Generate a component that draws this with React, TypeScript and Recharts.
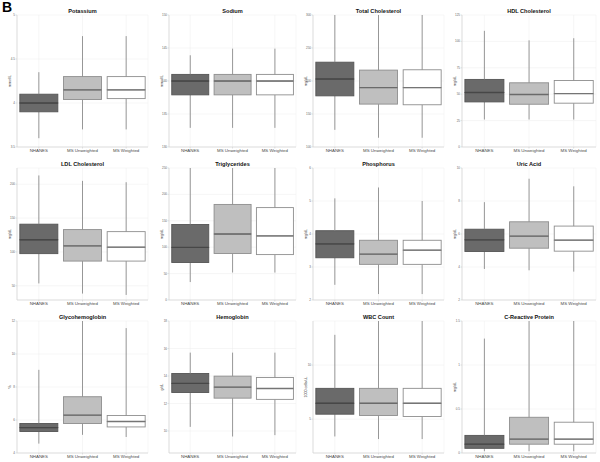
import { ComposedChart, Bar, XAxis, YAxis, CartesianGrid } from "recharts";

// box stats per group: [min, q1, median, q3, max]
const groups = ["NHANES", "MS Unweighted", "MS Weighted"];

const titles = [
  "Potassium", "Sodium", "Total Cholesterol", "HDL Cholesterol",
  "LDL Cholesterol", "Triglycerides", "Phosphorus", "Uric Acid",
  "Glycohemoglobin", "Hemoglobin", "WBC Count", "C-Reactive Protein",
];

const units = [
  "mmol/L", "mmol/L", "mg/dL", "mg/dL",
  "mg/dL", "mg/dL", "mg/dL", "mg/dL",
  "%", "g/dL", "1000 cells/uL", "mg/dL",
];

const domains: [number, number][] = [
  [3.5, 5], [130, 150], [100, 300], [0, 125],
  [29, 224], [0, 250], [2, 6], [2, 10],
  [4, 12], [8.4, 18], [1.87, 14.08], [0, 1.5],
];

const tickSets: number[][] = [
  [3.5, 4, 4.5, 5], [130, 135, 140, 145, 150], [100, 150, 200, 250, 300], [0, 25, 50, 75, 100, 125],
  [50, 100, 150, 200], [0, 50, 100, 150, 200, 250], [2, 3, 4, 5, 6], [2, 4, 6, 8, 10],
  [4, 6, 8, 10, 12], [10, 12, 14, 16, 18], [5, 10], [0, 0.5, 1, 1.5],
];

const potassium = [[3.6, 3.9, 4.0, 4.1, 4.35], [3.7, 4.04, 4.15, 4.3, 4.76], [3.7, 4.05, 4.15, 4.3, 4.76]];
const sodium = [[132.9, 137.9, 140, 141, 143.9], [132.9, 137.9, 140, 141, 144.9], [132.9, 137.9, 140, 141, 144.9]];
const totalChol = [[126, 177.5, 203, 228.5, 300], [114, 165, 190, 216.5, 300], [114, 164, 190, 217, 300]];
const hdl = [[26, 42.7, 51.6, 64, 110], [26, 40.5, 49.7, 60.8, 101], [26, 41.5, 50.6, 63, 103]];
const ldl = [[53.5, 97.5, 118, 141, 213], [38.5, 86.5, 109, 133, 205], [36.5, 86.5, 107, 130, 203]];
const triglycerides = [[34, 71, 99.5, 143, 250], [52, 88, 125, 181, 250], [52, 86, 121.5, 175, 250]];
const phosphorus = [[2.46, 3.28, 3.7, 4.1, 5.08], [2.18, 3.08, 3.39, 3.81, 5.41], [2.18, 3.08, 3.51, 3.81, 5.0]];
const uricAcid = [[3.88, 4.94, 5.65, 6.29, 7.93], [3.8, 5.14, 5.87, 6.74, 9.35], [3.72, 4.96, 5.63, 6.48, 8.89]];
const glyco = [[4.57, 5.3, 5.54, 5.79, 9.04], [5.1, 5.79, 6.29, 7.41, 12], [4.97, 5.58, 5.91, 6.27, 11.57]];
const hemoglobin = [[10.3, 12.8, 13.46, 14.18, 15.7], [9.6, 12.39, 13.19, 13.99, 15.7], [9.7, 12.3, 13.09, 13.89, 15.7]];
const wbc = [[3.4, 5.46, 6.47, 7.85, 12.8], [3.16, 5.34, 6.47, 7.85, 14.08], [3.16, 5.25, 6.47, 7.85, 14.08]];
const crp = [[0.02, 0.053, 0.1, 0.2, 1.3], [0.02, 0.1, 0.158, 0.406, 1.5], [0.02, 0.1, 0.158, 0.35, 1.5]];

const panels = [
  potassium, sodium, totalChol, hdl,
  ldl, triglycerides, phosphorus, uricAcid,
  glyco, hemoglobin, wbc, crp,
];

const boxFill = ["#6a6a6a", "#bfbfbf", "#ffffff"];
const boxStroke = ["#555555", "#8e8e8e", "#8e8e8e"];
const medianStroke = ["#474747", "#6a6a6a", "#757575"];

// per column layout (left offset, left axis width, chart width)
const colLeft = [0, 148, 296, 444];
const axisWidth = [17, 21, 17, 18];
const chartWidth = [149, 149, 149, 153];

const font = "'Liberation Sans', Arial, sans-serif";

function toRows(stats: number[][]) {
  return groups.map((g, i) => {
    const [mn, q1, md, q3, mx] = stats[i];
    return { name: g, base: mn, lowW: q1 - mn, lowBox: md - q1, upBox: q3 - md, upW: mx - q3 };
  });
}

const idx = (p: any) => groups.indexOf(p.payload?.name ?? p.name);

const WhiskerShape = (p: any) => {
  const cx = p.x + p.width / 2;
  return <line x1={cx} x2={cx} y1={p.y} y2={p.y + p.height} stroke="#8c8c8c" strokeWidth={0.9} />;
};

const LowBoxShape = (p: any) => {
  const i = idx(p);
  return (
    <rect x={p.x} y={p.y} width={p.width} height={p.height}
      fill={boxFill[i]} stroke={boxStroke[i]} strokeWidth={0.9} />
  );
};

const UpBoxShape = (p: any) => {
  const i = idx(p);
  const yb = p.y + p.height;
  return (
    <g>
      <rect x={p.x} y={p.y} width={p.width} height={p.height}
        fill={boxFill[i]} stroke={boxStroke[i]} strokeWidth={0.9} />
      <line x1={p.x} x2={p.x + p.width} y1={yb} y2={yb} stroke={medianStroke[i]} strokeWidth={1.3} />
    </g>
  );
};

function Panel({ k }: { k: number }) {
  const col = k % 4;
  const row = Math.floor(k / 4);
  const frame = { stroke: "#cfcfcf", strokeWidth: 0.6 };
  const w = chartWidth[col];
  const titleX = (axisWidth[col] + w - 1) / 2;
  return (
    <div style={{ position: "absolute", left: colLeft[col], top: row * 153 }}>
      <ComposedChart
        width={w}
        height={153}
        data={toRows(panels[k])}
        margin={{ top: 15, right: 1, left: 0, bottom: 0 }}
        barCategoryGap="6.5%"
      >
        <CartesianGrid stroke="#ededed" strokeWidth={0.5} />
        <XAxis
          dataKey="name"
          interval={0}
          height={6}
          tickSize={1.5}
          tickMargin={0.5}
          tick={{ fontSize: 4.4, fill: "#4a4a4a", fontFamily: font }}
          axisLine={frame}
          tickLine={frame}
        />
        <XAxis
          xAxisId="top"
          orientation="top"
          dataKey="name"
          height={0}
          tick={false}
          tickLine={false}
          axisLine={frame}
        />
        <YAxis
          type="number"
          domain={domains[k]}
          ticks={tickSets[k]}
          allowDataOverflow
          width={axisWidth[col]}
          tickSize={1.5}
          tickMargin={0.5}
          tick={{ fontSize: 3, fill: "#666", fontFamily: font }}
          axisLine={frame}
          tickLine={frame}
          label={{ value: units[k], angle: -90, position: "insideLeft", offset: axisWidth[col] - 7, fontSize: 3.6, fill: "#333", fontFamily: font, style: { textAnchor: "middle" } }}
        />
        <YAxis yAxisId="r" orientation="right" width={0} tick={false} tickLine={false} axisLine={frame} />
        <Bar dataKey="base" stackId="s" fill="none" isAnimationActive={false} />
        <Bar dataKey="lowW" stackId="s" shape={WhiskerShape} isAnimationActive={false} />
        <Bar dataKey="lowBox" stackId="s" shape={LowBoxShape} isAnimationActive={false} />
        <Bar dataKey="upBox" stackId="s" shape={UpBoxShape} isAnimationActive={false} />
        <Bar dataKey="upW" stackId="s" shape={WhiskerShape} isAnimationActive={false} />
      </ComposedChart>
      <svg width={w} height={15} style={{ position: "absolute", left: 0, top: 0 }}>
        <text x={titleX} y={12.5} textAnchor="middle" fontSize={5.6} fontWeight="bold" fill="#111" fontFamily={font}>
          {titles[k]}
        </text>
      </svg>
    </div>
  );
}

export default function App() {
  return (
    <div style={{ position: "absolute", left: 0, top: 0, width: 600, height: 462, background: "#fff", fontFamily: font }}>
      {titles.map((_, k) => (
        <Panel key={k} k={k} />
      ))}
      <div style={{ position: "absolute", left: 2, top: -1, fontSize: 14, fontWeight: "bold", color: "#000" }}>B</div>
    </div>
  );
}
